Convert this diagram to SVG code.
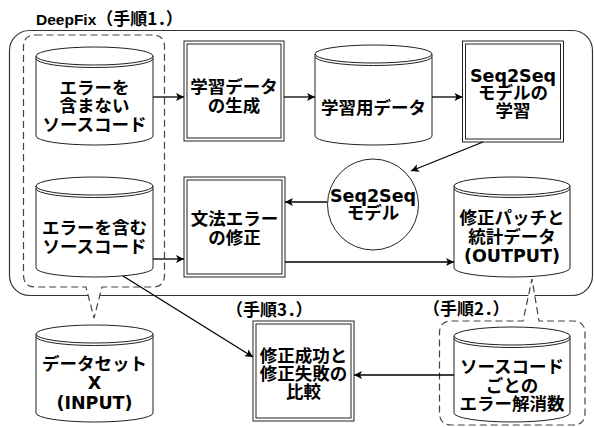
<svg xmlns="http://www.w3.org/2000/svg" width="594" height="427" viewBox="0 0 594 427">
<style>
.frame{fill:none;stroke:#333;stroke-width:1.2}
.callout{fill:#fff;stroke:#444;stroke-width:1.2;stroke-dasharray:7 4}
.shape{fill:#fff;stroke:#222;stroke-width:1}
.line{fill:none;stroke:#222;stroke-width:1}
.edge{fill:none;stroke:#000;stroke-width:1.3;marker-end:url(#arr)}
.t{font-family:"DejaVu Sans","Noto Sans CJK JP",sans-serif;font-weight:bold;font-size:17.5px;fill:#000;text-anchor:middle}
.lbl{font-family:"Noto Sans CJK JP",sans-serif;font-weight:bold;font-size:17px;fill:#000}
.latin{font-family:"Liberation Sans",sans-serif;font-size:15.5px}
</style>
<defs>
<marker id="arr" viewBox="0 0 10 10" refX="10" refY="5" markerWidth="9" markerHeight="8" markerUnits="userSpaceOnUse" orient="auto">
<path d="M0,0 L10,5 L0,10 L2.5,5 Z" fill="#000"/>
</marker>
</defs>

<g id="deepfix-frame">
<rect class="frame" x="9.5" y="30.5" width="583" height="265" rx="20" ry="20"/>
<text class="lbl" x="36" y="25"><tspan class="latin">DeepFix</tspan><tspan>（手順1．）</tspan></text>
</g>
<g id="input-group">
<path class="callout" d="M35.5,35 H152.5 Q164.5,35 164.5,47 V275 Q164.5,287 152.5,287 H102 L94,318 L86,287 H35.5 Q23.5,287 23.5,275 V47 Q23.5,35 35.5,35 Z"/>
</g>
<g id="step2-group">
<path class="callout" d="M451.5,321 H523 L532,279 L539,321 H573 Q585,321 585,333 V413 Q585,425 573,425 H451.5 Q439.5,425 439.5,413 V333 Q439.5,321 451.5,321 Z"/>
<text class="lbl" x="423" y="315">（手順2．）</text>
</g>

<g id="src-noerror">
<path class="shape" d="M36,56 A58.5,9 0 0 1 153,56 V136 A58.5,9 0 0 1 36,136 Z"/>
<path class="line" d="M36,56 A58.5,9 0 0 0 153,56 M36,58.5 A58.5,9 0 0 0 153,58.5"/>
<text class="t"><tspan x="94.5" y="93.5">エラーを</tspan><tspan x="94.5" y="112">含まない</tspan><tspan x="94.5" y="130.5">ソースコード</tspan></text>
</g>
<g id="src-error">
<path class="shape" d="M36,186 A58.5,9 0 0 1 153,186 V268 A58.5,9 0 0 1 36,268 Z"/>
<path class="line" d="M36,186 A58.5,9 0 0 0 153,186 M36,188.5 A58.5,9 0 0 0 153,188.5"/>
<text class="t"><tspan x="94.5" y="233.5">エラーを含む</tspan><tspan x="94.5" y="252.5">ソースコード</tspan></text>
</g>
<g id="gen-data">
<rect class="shape" x="184" y="41" width="100" height="100"/>
<rect class="line" x="187" y="44" width="94" height="94"/>
<text class="t"><tspan x="234" y="92.5">学習データ</tspan><tspan x="234" y="112">の生成</tspan></text>
</g>
<g id="train-data">
<path class="shape" d="M315,54 A58.5,9 0 0 1 432,54 V136 A58.5,9 0 0 1 315,136 Z"/>
<path class="line" d="M315,54 A58.5,9 0 0 0 432,54 M315,56.5 A58.5,9 0 0 0 432,56.5"/>
<text class="t" x="373.5" y="113.5">学習用データ</text>
</g>
<g id="train-model">
<rect class="shape" x="462.5" y="41" width="101" height="101"/>
<rect class="line" x="465.5" y="44" width="95" height="95"/>
<text class="t"><tspan x="513" y="81.5">Seq2Seq</tspan><tspan x="513" y="99">モデルの</tspan><tspan x="513" y="117">学習</tspan></text>
</g>
<g id="model">
<circle class="shape" cx="373" cy="204.5" r="45.5"/>
<text class="t"><tspan x="373" y="202">Seq2Seq</tspan><tspan x="373" y="219">モデル</tspan></text>
</g>
<g id="fix-errors">
<rect class="shape" x="184" y="177" width="101" height="100"/>
<rect class="line" x="187" y="180" width="95" height="94"/>
<text class="t"><tspan x="234.5" y="224.5">文法エラー</tspan><tspan x="234.5" y="243.5">の修正</tspan></text>
</g>
<g id="output">
<path class="shape" d="M454,186 A58,9 0 0 1 570,186 V268 A58,9 0 0 1 454,268 Z"/>
<path class="line" d="M454,186 A58,9 0 0 0 570,186 M454,188.5 A58,9 0 0 0 570,188.5"/>
<text class="t"><tspan x="512" y="223.5">修正パッチと</tspan><tspan x="512" y="242.5">統計データ</tspan><tspan x="512" y="261.5">(OUTPUT)</tspan></text>
</g>
<g id="dataset">
<path class="shape" d="M36,334 A58.5,9 0 0 1 153,334 V413 A58.5,9 0 0 1 36,413 Z"/>
<path class="line" d="M36,334 A58.5,9 0 0 0 153,334 M36,336.5 A58.5,9 0 0 0 153,336.5"/>
<text class="t"><tspan x="94.5" y="369.5">データセット</tspan><tspan x="94.5" y="388.5">X</tspan><tspan x="94.5" y="408.5">(INPUT)</tspan></text>
</g>
<g id="compare">
<rect class="shape" x="253" y="321" width="101" height="100"/>
<rect class="line" x="256" y="324" width="95" height="94"/>
<text class="lbl" x="226" y="316">（手順3．）</text>
<text class="t"><tspan x="303.5" y="361.5">修正成功と</tspan><tspan x="303.5" y="379.5">修正失敗の</tspan><tspan x="303.5" y="397.5">比較</tspan></text>
</g>
<g id="resolved">
<path class="shape" d="M454,336 A58,9 0 0 1 570,336 V413 A58,9 0 0 1 454,413 Z"/>
<path class="line" d="M454,336 A58,9 0 0 0 570,336 M454,338.5 A58,9 0 0 0 570,338.5"/>
<text class="t"><tspan x="512" y="372.5">ソースコード</tspan><tspan x="512" y="391.5">ごとの</tspan><tspan x="512" y="409.5">エラー解消数</tspan></text>
</g>

<g id="connectors">
<path class="edge" d="M153,97 H184"/>
<path class="edge" d="M284,97 H315"/>
<path class="edge" d="M432,97 H462.5"/>
<path class="edge" d="M483,142 L411,171"/>
<path class="edge" d="M327,202 H285"/>
<path class="edge" d="M153,259 H184"/>
<path class="edge" d="M285,262 H454"/>
<path class="edge" d="M123,276 L253,357"/>
<path class="edge" d="M454,375 H354"/>
</g>
</svg>
